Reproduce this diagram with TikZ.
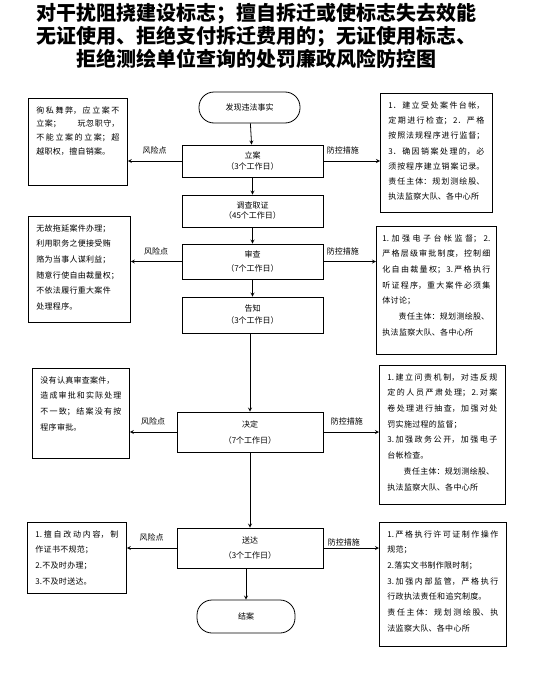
\documentclass[tikz,border=0pt]{standalone}
\usepackage{fontspec}
\newfontfamily\cjk{Noto Sans CJK SC}
\XeTeXlinebreaklocale "zh"
\XeTeXlinebreakskip=0.3pt plus 2pt
% boxed text: [baselineskip]{width}{height}{text}
\newcommand{\boxtext}[4][15.7]{\parbox[c][#3pt][t]{#2pt}{\baselineskip=#1pt\relax #4}}
\tikzset{
  stepbox/.style={draw, minimum width=141pt, align=center, inner sep=2pt,
    font=\cjk\fontsize{8}{11}\selectfont},
  endbox/.style={stepbox, rounded corners=15pt},
  sidebox/.style={draw, anchor=north west, inner xsep=8pt, inner ysep=8pt,
    font=\cjk\fontsize{8}{15.7}\selectfont},
  tag/.style={font=\cjk\fontsize{8}{10}\selectfont, inner sep=1pt}
}
\begin{document}
\begin{tikzpicture}[x=1pt, y=-1pt, >=stealth, line width=0.8pt]
  \useasboundingbox (0,0) rectangle (549,696);
  % title
  \node[font=\cjk\bfseries\fontsize{20}{23}\selectfont, align=center] (title) at (256,36)
    {对干扰阻挠建设标志；擅自拆迁或使标志失去效能\\无证使用、拒绝支付拆迁费用的；无证使用标志、\\拒绝测绘单位查询的处罚廉政风险防控图};
  % main flow
  \node[endbox, minimum width=101pt, minimum height=31pt] (start) at (249.5,107.5) {发现违法事实};
  \node[stepbox, minimum height=32pt] (lian) at (252.5,161) {立案\\（3个工作日）};
  \node[stepbox, minimum height=32pt] (diaocha) at (252.5,211) {调查取证\\[-1pt]（45个工作日）};
  \node[stepbox, minimum height=35pt] (shencha) at (252.5,261.5) {审查\\[3pt]（7个工作日）};
  \node[stepbox, minimum height=36pt] (gaozhi) at (252.5,315) {告知\\[1pt]（3个工作日）};
  \node[stepbox, minimum width=146pt, minimum height=40pt] (jueding) at (250,432) {决定\\[5pt]（7个工作日）};
  \node[stepbox, minimum width=146pt, minimum height=40pt] (songda) at (250,548) {送达\\[4pt]（3个工作日）};
  \node[endbox, minimum width=98pt, minimum height=33pt] (jiean) at (246,616.5) {结案};
  \draw[->] (start) -- (lian);
  \draw[->] (lian) -- (diaocha);
  \draw[->] (diaocha) -- (shencha);
  \draw[->] (shencha) -- (gaozhi);
  \draw[->] (gaozhi.south -| jueding) -- (jueding.north);
  \draw[->] (jueding.south) -- (songda.north);
  \draw[->] (songda.south -| jiean) -- (jiean.north);
  % risk points
  \node[sidebox] (risk1) at (28,98) {\boxtext[13.8]{83}{71}{徇私舞弊，应立案不\linebreak 立案；　　玩忽职守，\linebreak 不能立案的立案；超\linebreak 越职权，擅自销案。}};
  \node[sidebox] (risk2) at (28,216) {\boxtext{86}{90}{无故拖延案件办理；\\利用职务之便接受贿\\赂为当事人谋利益；\\随意行使自由裁量权；\\不依法履行重大案件\\处理程序。}};
  \node[sidebox] (risk3) at (32,368) {\boxtext{81}{74}{没有认真审查案件，\\造成审批和实际处理\linebreak 不一致；结案没有按\linebreak 程序审批。}};
  \node[sidebox] (risk4) at (27,522) {\boxtext{83}{55}{1.擅自改动内容，制\linebreak 作证书不规范；\\2.不及时办理；\\3.不及时送达。}};
  % control measures
  \node[sidebox] (ctrl1) at (380,93) {\boxtext[15.3]{96}{103}{1．建立受处案件台帐，\linebreak 定期进行检查；2．严格\linebreak 按照法规程序进行监督；\linebreak 3．确因销案处理的，必\linebreak 须按程序建立销案记录。\linebreak 责任主体：规划测绘股、\linebreak 执法监察大队、各中心所}};
  \node[sidebox, inner xsep=6pt] (ctrl2) at (376,226) {\boxtext{108}{112}{1.加强电子台帐监督；2.\linebreak 严格层级审批制度，控制细\linebreak 化自由裁量权；3.严格执行\linebreak 听证程序，重大案件必须集\linebreak 体讨论；\\　　责任主体：规划测绘股、\\执法监察大队、各中心所}};
  \node[sidebox] (ctrl3) at (379,365) {\boxtext{110}{123}{1.建立问责机制，对违反规\linebreak 定的人员严肃处理；2.对案\linebreak 卷处理进行抽查，加强对处\linebreak 罚实施过程的监督；\\3.加强政务公开，加强电子\linebreak 台帐检查。\\　　责任主体：规划测绘股、\\执法监察大队、各中心所}};
  \node[sidebox] (ctrl4) at (379,522) {\boxtext{111}{108}{1.严格执行许可证制作操作\linebreak 规范；\\2.落实文书制作限时制；\\3.加强内部监管，严格执行\linebreak 行政执法责任和追究制度。\\责任主体：规划测绘股、执\linebreak 法监察大队、各中心所}};
  % connectors
  \draw[->] (lian.west) -- (lian.west -| risk1.east) node[midway, tag, above=5pt] {风险点};
  \draw[->] (shencha.west) -- (shencha.west -| risk2.east) node[midway, tag, above=5pt] {风险点};
  \draw[->] (jueding.west) -- (jueding.west -| risk3.east) node[midway, tag, above=5pt] {风险点};
  \draw[->] (songda.west) -- (songda.west -| risk4.east) node[midway, tag, above=5pt] {风险点};
  \draw[->] (lian.east) -- (lian.east -| ctrl1.west) node[pos=0, tag, anchor=south west, xshift=2pt, yshift=5pt] {防控措施};
  \draw[->] (shencha.east) -- (shencha.east -| ctrl2.west) node[pos=0, tag, anchor=south west, xshift=2pt, yshift=5pt] {防控措施};
  \draw[->] (jueding.east) -- (jueding.east -| ctrl3.west) node[pos=0, tag, anchor=south west, xshift=6pt, yshift=5pt] {防控措施};
  \draw[->] (songda.east) -- (songda.east -| ctrl4.west) node[pos=0, tag, anchor=south west, xshift=3pt, yshift=0pt] {防控措施};
\end{tikzpicture}
\end{document}
